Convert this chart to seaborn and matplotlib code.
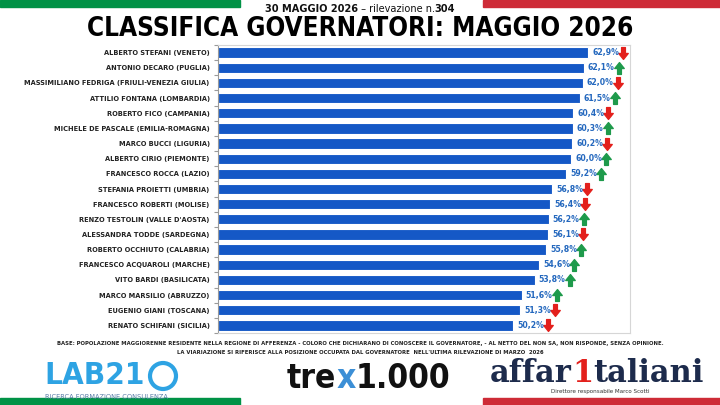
import matplotlib
matplotlib.use("Agg")
import matplotlib.pyplot as plt
import seaborn as sns
import pandas as pd
import numpy as np
from matplotlib.transforms import offset_copy
from matplotlib.path import Path
from matplotlib.patches import Rectangle, Ellipse

governors = [
    "ALBERTO STEFANI (VENETO)",
    "ANTONIO DECARO (PUGLIA)",
    "MASSIMILIANO FEDRIGA (FRIULI-VENEZIA GIULIA)",
    "ATTILIO FONTANA (LOMBARDIA)",
    "ROBERTO FICO (CAMPANIA)",
    "MICHELE DE PASCALE (EMILIA-ROMAGNA)",
    "MARCO BUCCI (LIGURIA)",
    "ALBERTO CIRIO (PIEMONTE)",
    "FRANCESCO ROCCA (LAZIO)",
    "STEFANIA PROIETTI (UMBRIA)",
    "FRANCESCO ROBERTI (MOLISE)",
    "RENZO TESTOLIN (VALLE D'AOSTA)",
    "ALESSANDRA TODDE (SARDEGNA)",
    "ROBERTO OCCHIUTO (CALABRIA)",
    "FRANCESCO ACQUAROLI (MARCHE)",
    "VITO BARDI (BASILICATA)",
    "MARCO MARSILIO (ABRUZZO)",
    "EUGENIO GIANI (TOSCANA)",
    "RENATO SCHIFANI (SICILIA)",
]
values = [62.9, 62.1, 62.0, 61.5, 60.4, 60.3, 60.2, 60.0, 59.2, 56.8,
          56.4, 56.2, 56.1, 55.8, 54.6, 53.8, 51.6, 51.3, 50.2]
trend = ["down", "up", "down", "up", "down", "up", "down", "up", "up", "down",
         "down", "up", "down", "up", "up", "up", "up", "down", "down"]

title = "CLASSIFICA GOVERNATORI: MAGGIO 2026"
subtitle_parts = ["30 MAGGIO 2026", " \u2013 rilevazione n.", "304"]
note1 = ("BASE: POPOLAZIONE MAGGIORENNE RESIDENTE NELLA REGIONE DI AFFERENZA - COLORO CHE DICHIARANO "
         "DI CONOSCERE IL GOVERNATORE, - AL NETTO DEL NON SA, NON RISPONDE, SENZA OPINIONE.")
note2 = ("LA VIARIAZIONE SI RIFERISCE ALLA POSIZIONE OCCUPATA DAL GOVERNATORE  NELL'ULTIMA "
         "RILEVAZIONE DI MARZO  2026")

BAR = "#1558C6"
LBL = "#2468BE"
UP = "#1E9A4B"
DOWN = "#E3201C"
GREEN = "#009246"
RED = "#CE2B37"

sns.set_style("white")
plt.rcParams["font.family"] = ["DejaVu Sans"]
COND = dict(family=["DejaVu Sans"], fontstretch="condensed")

df = pd.DataFrame({"governor": governors, "value": values})

fig = plt.figure(figsize=(7.2, 4.05), dpi=100)
ax = fig.add_axes([218 / 720, 1 - 333 / 405, 412 / 720, 288 / 405])

sns.barplot(data=df, x="value", y="governor", color=BAR, width=0.68,
            errorbar=None, orient="h", ax=ax, edgecolor="white",
            linewidth=0.8, saturation=1)

ax.set_xlim(0, 70)
ax.set_ylim(len(governors) - 0.5, -0.5)
ax.set_xlabel("")
ax.set_ylabel("")
ax.set_xticks([])
ax.set_yticks(np.arange(-0.5, len(governors), 1), minor=True)
ax.tick_params(axis="y", which="major", length=0, pad=6)
ax.tick_params(axis="y", which="minor", length=3, color="#9A9A9A", width=0.8, left=True)
for lab in ax.get_yticklabels():
    lab.set_fontsize(5.3)
    lab.set_fontweight("bold")
    lab.set_fontstretch("condensed")
    lab.set_color("#222222")
for side in ["top", "right", "bottom"]:
    ax.spines[side].set_color("#D6D6D6")
    ax.spines[side].set_linewidth(0.8)
ax.spines["left"].set_color("#9A9A9A")
ax.spines["left"].set_linewidth(0.8)

# arrow marker paths
up_verts = [(-0.32, -1), (0.32, -1), (0.32, 0.0), (0.8, 0.0), (0, 1), (-0.8, 0.0), (-0.32, 0.0), (-0.32, -1)]
codes = [Path.MOVETO] + [Path.LINETO] * 6 + [Path.CLOSEPOLY]
up_path = Path(up_verts, codes)
down_path = Path([(x, -y) for x, y in up_verts], codes)

arrow_tr = offset_copy(ax.transData, fig=fig, x=35, y=0, units="dots")
for i, (v, t) in enumerate(zip(values, trend)):
    ax.annotate(f"{v:.1f}%".replace(".", ","), xy=(v, i), xytext=(4, 0),
                textcoords="offset pixels", va="center", ha="left",
                fontsize=6.2, fontweight="bold", color=LBL, **COND)
    ax.plot([v], [i], linestyle="none",
            marker=up_path if t == "up" else down_path,
            markersize=8.5, color=UP if t == "up" else DOWN,
            transform=arrow_tr, clip_on=False)

# flag stripes
for ybot in [0, 1 - 7 / 405]:
    fig.patches.append(Rectangle((0, ybot), 240 / 720, 7 / 405,
                                 transform=fig.transFigure, color=GREEN, zorder=0))
    fig.patches.append(Rectangle((483 / 720, ybot), 237 / 720, 7 / 405,
                                 transform=fig.transFigure, color=RED, zorder=0))

renderer = fig.canvas.get_renderer()


def chain(x_px, y_px, parts, **common):
    texts = []
    x = x_px
    for txt, kw in parts:
        opts = dict(common)
        opts.update(kw)
        t = fig.text(x / 720, 1 - y_px / 405, txt, ha="left", va="center", **opts)
        bb = t.get_window_extent(renderer)
        x = bb.x1
        texts.append(t)
    return texts, x


# subtitle
sub, xend = chain(0, 9, [(subtitle_parts[0], dict(fontweight="bold")),
                         (subtitle_parts[1], dict(fontweight="normal")),
                         (subtitle_parts[2], dict(fontweight="bold"))],
                  fontsize=7.8, color="#111111", **COND)
shift = (360 - xend / 2)
for t in sub:
    x0, y0 = t.get_position()
    t.set_position((x0 + shift / 720, y0))

fig.text(0.5, 1 - 28.5 / 405, title, ha="center", va="center", fontsize=18.7,
         fontweight="bold", color="#000000", **COND)

fig.text(0.5, 1 - 344 / 405, note1, ha="center", va="center", fontsize=4.2,
         fontweight="bold", color="#222222", **COND)
fig.text(0.5, 1 - 352 / 405, note2, ha="center", va="center", fontsize=4.2,
         fontweight="bold", color="#222222", **COND)

# LAB21 logo
fig.text(44 / 720, 1 - 376 / 405, "LAB21", ha="left", va="center", fontsize=22.5,
         fontweight="bold", color="#2EA3E3", **COND)
fig.patches.append(Ellipse((163 / 720, 1 - 376 / 405), 26 / 720, 26 / 405,
                           transform=fig.transFigure, fill=False,
                           edgecolor="#2EA3E3", linewidth=3))
fig.text(45 / 720, 1 - 397 / 405, "RICERCA FORMAZIONE CONSULENZA", ha="left", va="center",
         fontsize=5.3, color="#5A7FA8", **COND)

# tre x 1.000 logo
chain(287, 378, [("tre", dict(color="#111111")),
                 ("x", dict(color="#3C8FD6")),
                 ("1.000", dict(color="#111111"))],
      fontsize=24, fontweight="bold", **COND)

# affaritaliani logo
chain(490, 373, [("affar", dict(color="#1D2B4C")),
                 ("1", dict(color="#E3201C")),
                 ("taliani", dict(color="#1D2B4C"))],
      fontsize=22, fontweight="bold", family=["DejaVu Serif"])
fig.text(600 / 720, 1 - 392 / 405, "Direttore responsabile Marco Scotti", ha="center",
         va="center", fontsize=4.5, color="#333333", **COND)

fig.savefig("out.png", dpi=100)
